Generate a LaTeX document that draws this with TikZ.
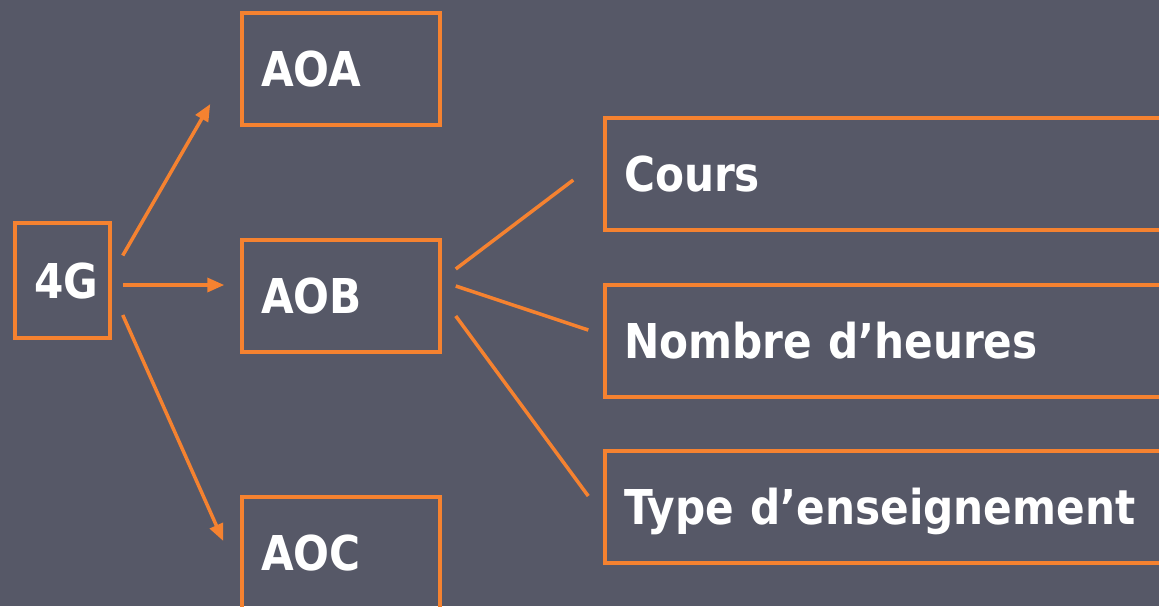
\documentclass[tikz,border=0pt]{standalone}
\usepackage{fontspec}
\setmainfont{DejaVu Sans}[FakeStretch=0.88]
\usetikzlibrary{arrows.meta}
\definecolor{slidebg}{RGB}{86,88,103}
\definecolor{slideorange}{RGB}{245,130,48}

\begin{document}
\begin{tikzpicture}
	[x=1pt,y=-1pt,every node/.style={rectangle,draw=slideorange,line width=3.5pt,text=white,
		font=\fontsize{48}{56}\selectfont\bfseries,align=left,inner xsep=19pt,inner ysep=0pt,
		text height=45pt,text depth=10pt,minimum height=112pt}]
	\tikzstyle{edges} = [line width=3.5pt,draw=slideorange];
	\tikzstyle{arr} = [edges,-{Triangle[length=17pt,width=14pt]}];
	
	\useasboundingbox (0,0) rectangle (1159,606);
	\fill[slidebg] (0,0) rectangle (1159,606);
	\clip (0,0) rectangle (1159,606);
	
	\node[text width=57pt,minimum height=115pt] (g4) at (62.5,280.5) {4G};
	\node[text width=160pt] (aoa) at (341,69) {AOA};
	\node[text width=160pt] (aob) at (341,296) {AOB};
	\node[text width=160pt] (aoc) at (341,553) {AOC};
	\node[text width=662pt] (cours) at (955,174) {Cours};
	\node[text width=662pt] (heures) at (955,341) {Nombre d’heures};
	\node[text width=662pt] (type) at (955,507) {Type d’enseignement};
	
	\draw[arr] ([xshift=11pt,yshift=25pt]g4.east) -- ([xshift=-30pt,yshift=-35pt]aoa.west);
	\draw[arr] ([xshift=11pt,yshift=-4.5pt]g4.east) -- ([xshift=-16pt,yshift=11pt]aob.west);
	\draw[arr] ([xshift=11pt,yshift=-34.5pt]g4.east) -- ([xshift=-17pt,yshift=12pt]aoc.west);
	\draw[edges] ([xshift=14pt,yshift=27pt]aob.east) -- ([xshift=-30pt,yshift=-6pt]cours.west);
	\draw[edges] ([xshift=14pt,yshift=10pt]aob.east) -- ([xshift=-15pt,yshift=11pt]heures.west);
	\draw[edges] ([xshift=14pt,yshift=-20pt]aob.east) -- ([xshift=-15pt,yshift=11pt]type.west);
\end{tikzpicture}
\end{document}
